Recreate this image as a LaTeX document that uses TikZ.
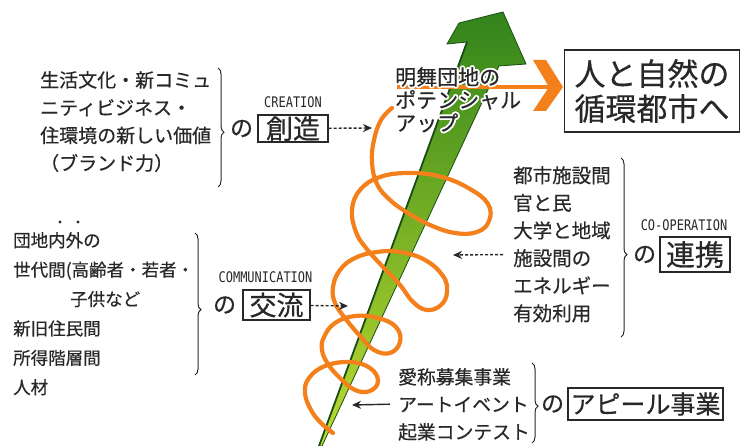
\documentclass[tikz,border=0pt]{standalone}
\usepackage{fontspec}
\setmainfont{Noto Sans CJK JP}[UprightFeatures={FakeBold=0.45}]
\newfontfamily\keyfont{DejaVu Sans Mono}[FakeStretch=0.82]
\usepackage{contour}
\usetikzlibrary{positioning}
\usetikzlibrary{arrows.meta}
\usetikzlibrary{decorations.pathreplacing}
\definecolor{inkgray}{RGB}{40,40,40}
\definecolor{spiralorange}{RGB}{244,128,28}
\definecolor{leafgreen}{RGB}{50,132,28}
\definecolor{midleaf}{RGB}{110,176,36}
\definecolor{darkleaf}{RGB}{26,78,20}
\definecolor{limegreen}{RGB}{190,220,48}
\contourlength{1.8pt}
\contournumber{12}
\tikzset{every picture/.style={x=1pt,y=-1pt}}
\tikzset{txt/.style={align=left, anchor=north west, inner sep=0pt, text=inkgray},
  keybox/.style={draw=inkgray, line width=1.4pt, inner sep=0pt, text=inkgray},
  keyword/.style={inner sep=0pt, text=inkgray, font=\fontsize{14.6}{14.6}\selectfont\keyfont},
  nochar/.style={inner sep=0pt, text=inkgray, font=\fontsize{23}{23}\selectfont},
  curly/.style={draw=inkgray, line width=1pt, decorate, decoration={brace, amplitude=6pt, aspect=0.54}},
  dotarrow/.style={draw=inkgray, line width=1.4pt, densely dashed, -{Stealth[length=9pt, width=8pt]}},
  solidarrow/.style={draw=inkgray, line width=1.4pt, -{Stealth[length=9pt, width=8pt]}},
  spiral/.style={draw=spiralorange, line width=4.2pt, line cap=round, line join=round}}

\begin{document}
\begin{tikzpicture}
\useasboundingbox (0,0) rectangle (752,446);
\fill[white] (0,0) rectangle (752,446);

\shadedraw[top color=leafgreen, middle color=midleaf, bottom color=limegreen, draw=darkleaf, line width=0.8pt]
  (319,446) -- (467,42) -- (447,44) -- (459,23) -- (503,12) -- (526,64) -- (499,66) -- (322,446) -- cycle;
\draw[darkleaf, line width=1.8pt] (319,446) -- (467,42);

\draw[spiral] plot[smooth, tension=0.7] coordinates {
  (392,108) (381,120) (374,140) (372,162) (377,184) (390,200) (408,213) (430,225)
  (455,233) (477,232) (489,221) (488,204) (470,189) (442,177) (410,173) (380,177)
  (360,190) (352,210) (356,232) (366,248) (383,267) (400,285) (413,302) (427,310)
  (441,305) (447,292) (443,276) (425,260) (400,252) (377,252) (355,258) (340,270)
  (333,287) (335,303) (345,318) (360,336) (374,350) (390,353) (400,342) (396,327)
  (378,318) (355,316) (335,323) (324,337) (322,350) (328,364) (340,378) (355,390)
  (370,391) (378,381) (370,368) (350,362) (325,366) (309,378) (305,393) (311,410)
  (321,423) (333,433)};

\coordinate (upstart) at (397,87);
\coordinate (uptip) at (549,87);
\draw[spiralorange, line width=4.5pt] (upstart) -- (uptip);
\fill[spiralorange] (533,60) -- (546,60) -- (563,87) -- (546,111) -- (533,111) -- (uptip) -- cycle;

\node (potential) [txt, font=\fontsize{21}{23}\selectfont] at (395,67) {\contour{white}{明舞団地の}\\\contour{white}{ポテンシャル}\\\contour{white}{アップ}};
\node (ecocity) [keybox, minimum width=175pt, minimum height=82pt, align=center, font=\fontsize{31}{35}\selectfont] at (652,91) {人と自然の\\循環都市へ};

\node (life) [txt, font=\fontsize{19}{27.7}\selectfont] at (40,71) {生活文化・新コミュ\\ニティビジネス・\\住環境の新しい価値\\（ブランド力）};
\draw[curly] (218,68) -- (218,187);
\node (sozo) [keybox, minimum width=70pt, minimum height=27pt, font=\fontsize{27}{27}\selectfont] at (293,128.5) {創造};
\node (sozono) [nochar, left=4pt of sozo] {の};
\node (creation) [keyword, above of=sozo, node distance=26.5pt] {CREATION};
\coordinate (sozotip) at (372,128);
\draw[dotarrow] (sozo) -- (sozotip);

\node (comm) [txt, font=\fontsize{17.5}{29.4}\selectfont] at (13,232) {団地内外の\\世代間(高齢者・若者・\\\hspace*{57pt}子供など\\新旧住民間\\所得階層間\\人材};
\fill[inkgray] (60,222) circle[radius=1.6pt] (78,222) circle[radius=1.6pt];
\draw[curly] (195,233) -- (195,375);
\node (koryu) [keybox, minimum width=67pt, minimum height=30pt, font=\fontsize{27}{27}\selectfont] at (276.5,305) {交流};
\node (koryuno) [nochar, left=6pt of koryu] {の};
\node (communication) [keyword, above of=koryu, node distance=28pt, xshift=-11pt] {COMMUNICATION};
\coordinate (koryutip) at (348,306);
\draw[dotarrow] (koryu) -- (koryutip);

\node (coop) [txt, font=\fontsize{19.5}{27.6}\selectfont] at (513,166) {都市施設間\\官と民\\大学と地域\\施設間の\\エネルギー\\有効利用};
\draw[curly] (621,158) -- (621,337);
\node (renkei) [keybox, minimum width=70pt, minimum height=35pt, font=\fontsize{29}{29}\selectfont] at (695,254.5) {連携};
\node (renkeino) [nochar, left=3pt of renkei] {の};
\node (cooperation) [keyword, above of=renkei, node distance=29.5pt, xshift=-11pt] {CO-OPERATION};
\coordinate (renkeitip) at (453,255);
\draw[dotarrow, shorten <=10pt] (coop.west |- renkei) -- (renkeitip);

\node (appealwork) [txt, font=\fontsize{18.8}{27.5}\selectfont] at (398,368) {愛称募集事業\\アートイベント\\起業コンテスト};
\draw[curly] (532,363) -- (532,443);
\node (appeal) [keybox, minimum width=155pt, minimum height=32pt, font=\fontsize{25}{25}\selectfont] at (645.5,404) {アピール事業};
\node (appealno) [nochar, left=3pt of appeal] {の};
\coordinate (appealtip) at (352,405);
\draw[solidarrow, shorten <=8pt] (appealwork.west |- appeal) -- (appealtip);
\end{tikzpicture}
\end{document}
